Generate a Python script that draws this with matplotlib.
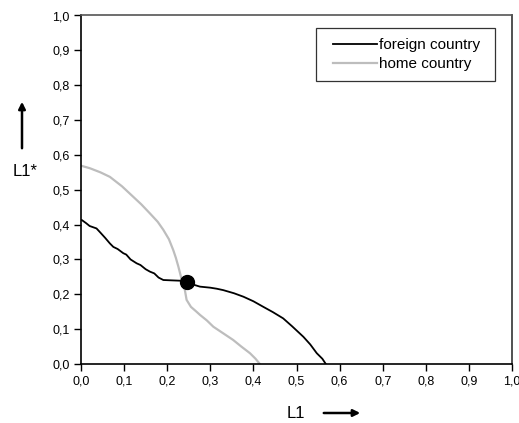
import matplotlib.pyplot as plt
from matplotlib.patches import Rectangle
from matplotlib.ticker import FuncFormatter

plt.rcParams['font.family'] = ['Liberation Sans', 'DejaVu Sans']

# foreign country reaction curve (L1, L1*)
foreign_x = [0.0, 0.002, 0.012, 0.020, 0.036, 0.045, 0.056, 0.067, 0.075, 0.085,
             0.098, 0.105, 0.115, 0.129, 0.138, 0.150, 0.160, 0.170, 0.180,
             0.191, 0.21, 0.230, 0.245, 0.260, 0.276, 0.30, 0.315, 0.330,
             0.355, 0.377, 0.40, 0.423, 0.445, 0.469, 0.49, 0.516, 0.532,
             0.547, 0.560, 0.568]
foreign_y = [0.413, 0.413, 0.404, 0.396, 0.389, 0.377, 0.362, 0.346, 0.336, 0.330,
             0.318, 0.314, 0.300, 0.289, 0.284, 0.272, 0.265, 0.260, 0.248,
             0.241, 0.240, 0.239, 0.236, 0.228, 0.222, 0.219, 0.216, 0.212,
             0.203, 0.193, 0.180, 0.164, 0.149, 0.131, 0.108, 0.078, 0.056,
             0.031, 0.015, 0.0]

# home country reaction curve (L1, L1*)
home_x = [0.0, 0.02, 0.045, 0.067, 0.095, 0.121, 0.140, 0.160, 0.178, 0.191,
          0.204, 0.214, 0.220, 0.226, 0.233, 0.241, 0.245, 0.255, 0.268,
          0.276, 0.292, 0.307, 0.330, 0.353, 0.372, 0.392, 0.405, 0.415]
home_y = [0.569, 0.562, 0.550, 0.537, 0.510, 0.480, 0.458, 0.432, 0.408, 0.385,
          0.358, 0.327, 0.305, 0.279, 0.245, 0.212, 0.184, 0.164, 0.150,
          0.141, 0.125, 0.107, 0.088, 0.069, 0.050, 0.031, 0.015, 0.0]

# equilibrium point
eq_x = [0.245]
eq_y = [0.234]

ticks = [0.0, 0.1, 0.2, 0.3, 0.4, 0.5, 0.6, 0.7, 0.8, 0.9, 1.0]

W, H = 519, 423
fig = plt.figure(figsize=(W / 100, H / 100), dpi=100)
ax = fig.add_axes([81 / W, 1 - 364 / H, 431 / W, 348.5 / H])

ax.plot(foreign_x, foreign_y, color='black', lw=1.3, label='foreign country')
ax.plot(home_x, home_y, color='#bdbdbd', lw=1.6, label='home country')
ax.plot(eq_x, eq_y, 'o', color='black', markersize=10, zorder=5)

ax.set_xlim(0, 1)
ax.set_ylim(0, 1)
ax.set_xticks(ticks)
ax.set_yticks(ticks)
fmt = FuncFormatter(lambda v, p: f'{v:.1f}'.replace('.', ','))
ax.xaxis.set_major_formatter(fmt)
ax.yaxis.set_major_formatter(fmt)
ax.tick_params(direction='out', length=5, width=1, labelsize=9, pad=3)

ax.spines['top'].set_color('#555555')
ax.spines['right'].set_color('#333333')
for s in ax.spines.values():
    s.set_linewidth(1.2)

# legend box drawn separately so the padding matches
ax.add_patch(Rectangle((0.545, 0.812), 0.416, 0.152, transform=ax.transAxes,
                       fill=False, edgecolor='#333333', lw=0.9, zorder=6))
ax.legend(loc='upper left', bbox_to_anchor=(0.585, 0.935), fontsize=11,
          frameon=False, handlelength=2.9, borderpad=0, labelspacing=0.31,
          handletextpad=0.1, borderaxespad=0)

# axis labels with arrows
fig.text(296 / W, 1 - 413 / H, 'L1', fontsize=12, ha='center', va='center')
ax.annotate('', xy=(363 / W, 1 - 413 / H), xytext=(321 / W, 1 - 413 / H),
            xycoords='figure fraction',
            arrowprops=dict(arrowstyle='-|>', color='black', lw=1.8, mutation_scale=10))
fig.text(25 / W, 1 - 172 / H, 'L1*', fontsize=12, ha='center', va='center')
ax.annotate('', xy=(22 / W, 1 - 99 / H), xytext=(22 / W, 1 - 151 / H),
            xycoords='figure fraction',
            arrowprops=dict(arrowstyle='-|>', color='black', lw=1.8, mutation_scale=10))

fig.savefig('out.png', dpi=100)
